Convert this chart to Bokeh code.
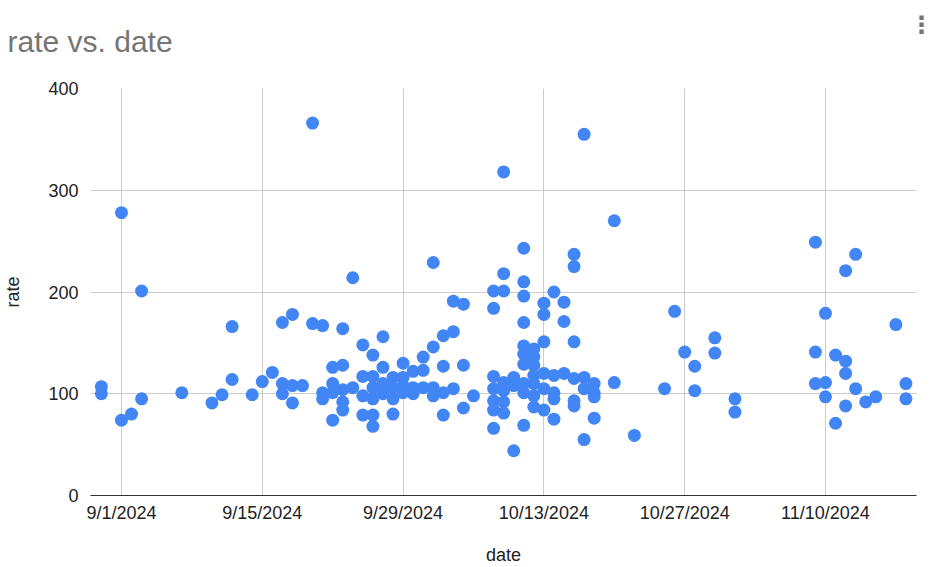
import pandas as pd
from bokeh.plotting import figure
from bokeh.models import Range1d, FixedTicker, ColumnDataSource, Title, Label
from bokeh.embed import file_html
from bokeh.resources import INLINE

dates = (
    ["2024-08-30"] * 2 + ["2024-09-01"] * 2 + ["2024-09-02"] + ["2024-09-03"] * 2 +
    ["2024-09-07"] + ["2024-09-10"] + ["2024-09-11"] + ["2024-09-12"] * 2 +
    ["2024-09-14"] + ["2024-09-15"] + ["2024-09-16"] + ["2024-09-17"] * 3 +
    ["2024-09-18"] * 3 + ["2024-09-19"] + ["2024-09-20"] * 2 + ["2024-09-21"] * 3 +
    ["2024-09-22"] * 4 + ["2024-09-23"] * 5 + ["2024-09-24"] * 2 + ["2024-09-25"] * 4 +
    ["2024-09-26"] * 6 + ["2024-09-27"] * 4 + ["2024-09-28"] * 4 + ["2024-09-29"] * 4 +
    ["2024-09-30"] * 3 + ["2024-10-01"] * 3 + ["2024-10-02"] * 4 + ["2024-10-03"] * 4 +
    ["2024-10-04"] * 3 + ["2024-10-05"] * 3 + ["2024-10-06"] + ["2024-10-08"] * 7 +
    ["2024-10-09"] * 7 + ["2024-10-10"] * 3 + ["2024-10-11"] * 10 + ["2024-10-12"] * 7 +
    ["2024-10-13"] * 6 + ["2024-10-14"] * 5 + ["2024-10-15"] * 3 + ["2024-10-16"] * 6 +
    ["2024-10-17"] * 4 + ["2024-10-18"] * 4 + ["2024-10-20"] * 2 + ["2024-10-22"] +
    ["2024-10-25"] + ["2024-10-26"] + ["2024-10-27"] + ["2024-10-28"] * 2 +
    ["2024-10-30"] * 2 + ["2024-11-01"] * 2 + ["2024-11-09"] * 3 + ["2024-11-10"] * 3 +
    ["2024-11-11"] * 2 + ["2024-11-12"] * 4 + ["2024-11-13"] * 2 + ["2024-11-14"] +
    ["2024-11-15"] + ["2024-11-17"] + ["2024-11-18"] * 2
)

rates = [
    107, 100, 278, 74, 80, 201, 95,
    101, 91, 99, 166, 114,
    99, 112, 121, 170, 110, 100,
    178, 108, 91, 108, 366, 169, 167, 101, 95,
    126, 110, 101, 74, 164, 128, 104, 92, 84, 214, 106, 148, 117, 98, 79,
    138, 117, 106, 95, 79, 68, 156, 126, 110, 100, 116, 106, 95, 80, 130, 116, 108, 101,
    122, 106, 100, 136, 123, 106, 229, 146, 106, 98, 157, 127, 101, 79,
    191, 161, 105, 188, 128, 86, 98, 201, 184, 117, 105, 93, 84, 66,
    318, 218, 201, 111, 103, 92, 81, 116, 108, 44,
    243, 210, 196, 170, 147, 139, 129, 110, 101, 69,
    144, 136, 128, 118, 110, 98, 87,
    189, 178, 151, 120, 105, 84, 200, 118, 101, 95, 75, 190, 171, 120,
    237, 225, 151, 115, 93, 88,
    355, 116, 105, 55, 110, 101, 97, 76, 270, 111, 59,
    105, 181, 141, 127, 103,
    155, 140, 95, 82, 249, 141, 110, 179, 111, 97,
    138, 71, 221, 132, 120, 88, 237, 105, 92,
    97, 168, 110, 95,
]

tick_dates = ["2024-09-01", "2024-09-15", "2024-09-29", "2024-10-13", "2024-10-27", "2024-11-10"]
tick_labels = ["9/1/2024", "9/15/2024", "9/29/2024", "10/13/2024", "10/27/2024", "11/10/2024"]
y_ticks = [0, 100, 200, 300, 400]

src = ColumnDataSource(dict(x=pd.to_datetime(dates), y=rates))

origin = pd.Timestamp("2024-09-01")
x_start = origin - pd.Timedelta(days=3.08)
x_end = origin + pd.Timedelta(days=79.05)

p = figure(
    width=933, height=567, x_axis_type="datetime",
    output_backend="svg", toolbar_location=None, title=None,
    x_range=Range1d(x_start, x_end), y_range=Range1d(0, 400),
    min_border_left=90, min_border_right=17, min_border_top=88, min_border_bottom=72,
)
p.outline_line_color = None
p.background_fill_color = "white"
p.border_fill_color = "white"

tick_ms = [int(pd.Timestamp(d).timestamp() * 1000) for d in tick_dates]
p.xaxis.ticker = FixedTicker(ticks=tick_ms)
p.xaxis.major_label_overrides = {ms: lab for ms, lab in zip(tick_ms, tick_labels)}
p.yaxis.ticker = FixedTicker(ticks=y_ticks)
p.xgrid.ticker = FixedTicker(ticks=tick_ms)
p.ygrid.ticker = FixedTicker(ticks=y_ticks)

for g in (p.xgrid, p.ygrid):
    g.grid_line_color = "#cccccc"
    g.grid_line_width = 1

for ax in (p.xaxis, p.yaxis):
    ax.major_tick_line_color = None
    ax.minor_tick_line_color = None
    ax.major_label_text_font = "Liberation Sans"
    ax.major_label_text_font_size = "18px"
    ax.major_label_text_color = "#222222"
    ax.axis_label_text_font = "Liberation Sans"
    ax.axis_label_text_font_size = "18px"
    ax.axis_label_text_font_style = "normal"
    ax.axis_label_text_color = "#222222"
p.xaxis.axis_line_color = "#333333"
p.xaxis.axis_line_width = 1
p.yaxis.axis_line_color = None
p.yaxis.major_label_standoff = 6
p.xaxis.major_label_standoff = 1
p.xaxis.axis_label = "date"
p.yaxis.axis_label = "rate"
p.xaxis.axis_label_standoff = 19
p.yaxis.axis_label_standoff = 22

p.scatter("x", "y", source=src, size=13, fill_color="#4285F4", line_color=None)

# panels stack outward from the frame in the order they are added
menu = Label(x=831, y=64, x_units="screen", y_units="screen", text="\u22ee",
             text_font="DejaVu Sans", text_font_size="24px", text_font_style="bold",
             text_color="#757575", text_align="center", text_baseline="middle")
p.add_layout(menu, "above")
title = Title(text="rate vs. date", align="left", offset=-83, standoff=5,
              text_font="Liberation Sans", text_font_size="30px", text_font_style="normal",
              text_color="#757575")
p.add_layout(title, "above")
spacer = Title(text=" ", align="left", standoff=0, text_font_size="15px")
p.add_layout(spacer, "above")

open("out.html", "w").write(file_html(p, INLINE))
